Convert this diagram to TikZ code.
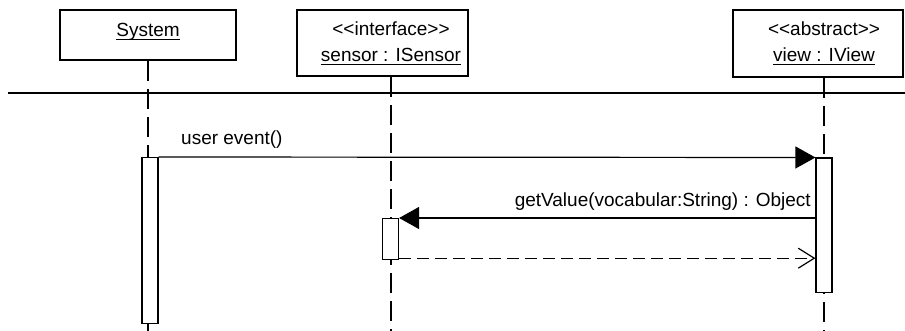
\documentclass[tikz,border=0pt]{standalone}
\usepackage{fontspec}
\setmainfont{Liberation Sans}
\usetikzlibrary{arrows.meta,backgrounds}
% underline drawn a fixed distance under the baseline
\newcommand\undertext[1]{\setbox0\hbox{#1}\rlap{\rule[-3.5pt]{\wd0}{1.1pt}}\box0}
% stereotype guillemets written as two plain angle brackets
\newcommand\stereo[1]{<\kern0pt<#1>\kern0pt>}
\begin{document}
\begin{tikzpicture}[x=1pt,y=-1pt,
  object/.style={draw, line width=2.8pt, fill=white, inner sep=0pt},
  caption/.style={font=\fontsize{19}{22}\selectfont, inner sep=0pt, anchor=base},
  activation/.style={draw, line width=1.2pt, fill=white, minimum width=16pt,
    inner sep=0pt, anchor=north},
  lifeline/.style={line width=1.2pt, dash pattern=on 20pt off 8pt},
  call/.style={line width=1.2pt, -{Triangle[length=20pt,width=22pt]}},
  reply/.style={line width=1.2pt, dash pattern=on 12pt off 6pt,
    -{Straight Barb[length=16pt,width=20pt,line width=1.2pt]}},
  msg/.style={font=\fontsize{19}{22}\selectfont, inner sep=0pt}]
  \useasboundingbox (0,0) rectangle (905,331);
  \clip (0,0) rectangle (905,331);

  % participants
  \node[object, minimum width=176pt, minimum height=50pt] (sys) at (148,35) {};
  \node[caption] (sysname) at (148,37) {\undertext{System}};
  \node[object, minimum width=171pt, minimum height=66pt] (sen) at (382.5,43) {};
  \node[caption] (senst) at (391,36) {\stereo{interface}};
  \node[caption] (senname) at (391,62) {\undertext{sensor : ISensor}};
  \node[object, minimum width=170pt, minimum height=67pt] (view) at (818,43.5) {};
  \node[caption] (viewst) at (824,35.5) {\stereo{abstract}};
  \node[caption] (viewname) at (824,62) {\undertext{view : IView}};

  % separator under the participant row
  \coordinate (sepL) at (8,93);
  \coordinate (sepR) at (905,93);
  \draw[line width=1.2pt] (sepL) -- (sepR);

  % activations
  \node[activation, minimum height=166pt] (sysact) at (150,157) {};
  \node[activation, minimum height=134pt] (viewact) at (824,157.5) {};
  \node[activation, minimum height=41pt] (senact) at (390.5,218) {};

  % lifelines, behind the activation bars
  \begin{scope}[on background layer]
    \fill[white] (0,0) rectangle (905,331);
    \coordinate (bottom) at (0,331);
    \draw[lifeline] (sysname |- sys.south) -- (sysname |- bottom);
    \draw[lifeline] (senname |- sen.south) -- (senname |- bottom);
    \draw[lifeline] (viewname |- view.south) -- (viewname |- bottom);
  \end{scope}

  % messages
  \draw[call] (sysact.north east) -- (viewact.north west);
  \node[msg, anchor=base west] (m1) at (181,145) {user event()};
  \draw[call] (viewact.west |- senact.north east) -- (senact.north east);
  \node[msg, anchor=base east] (m2) at (811,207) {getValue(vocabular:String) : Object};
  \draw[reply] ([yshift=2pt]senact.south east) -- ([yshift=2pt]viewact.west |- senact.south east);
\end{tikzpicture}
\end{document}
